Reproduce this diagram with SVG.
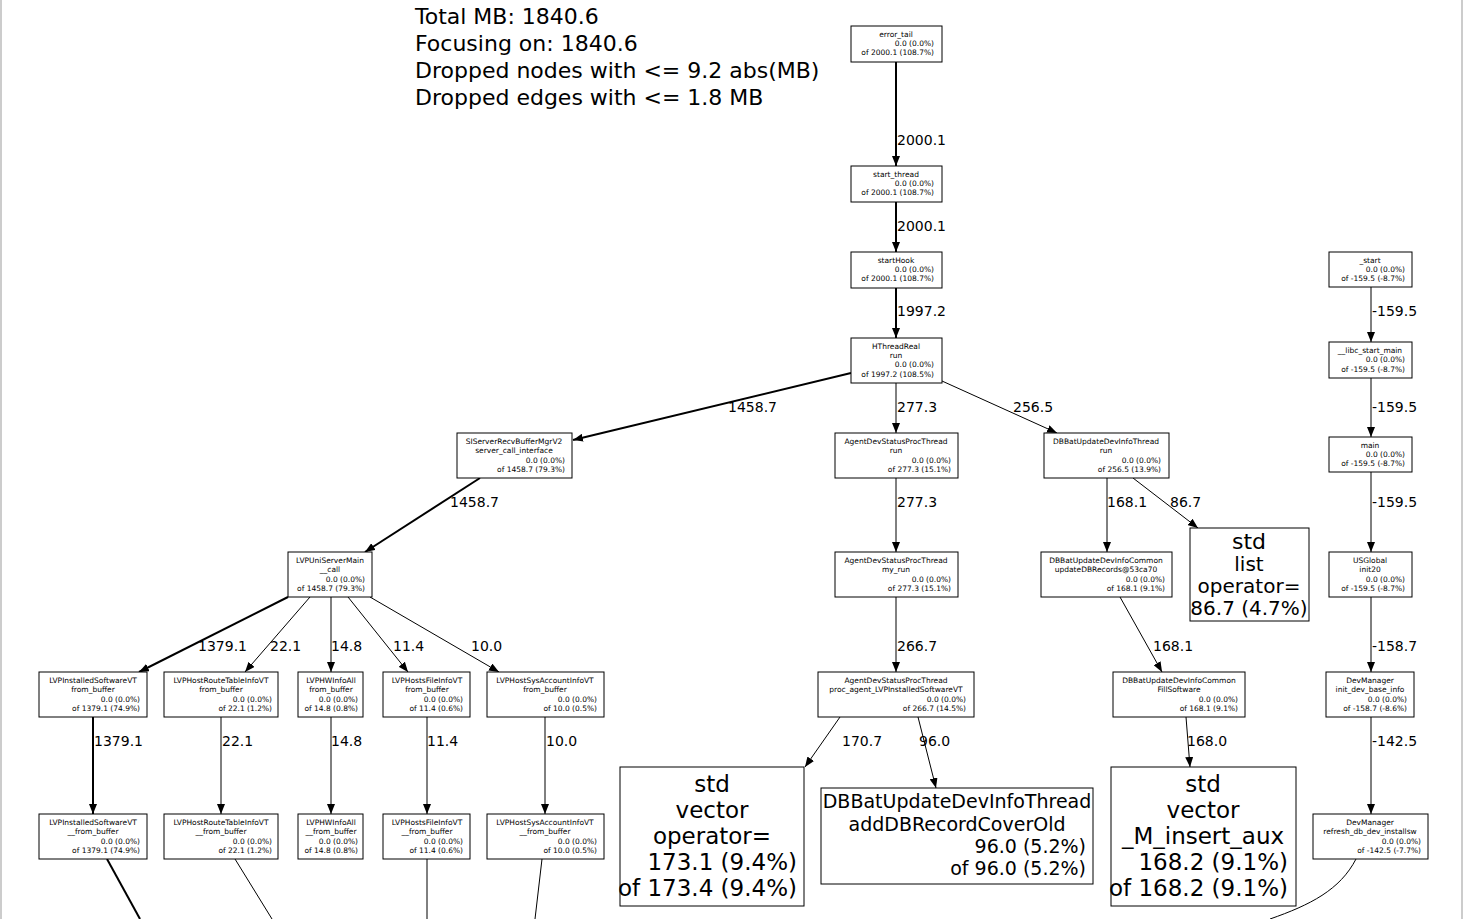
<svg xmlns="http://www.w3.org/2000/svg" width="1466" height="919" viewBox="0 0 1466 919">
<defs>
<marker id="a" viewBox="0 0 10 8" refX="10" refY="4" markerWidth="10" markerHeight="8" markerUnits="userSpaceOnUse" orient="auto"><path d="M0,0L10,4L0,8z" fill="#000"/></marker>
</defs>
<style>
text{font-family:"DejaVu Sans",sans-serif;fill:#000}
.n rect{fill:#fff;stroke:#000;stroke-width:1}
.s{font-size:7.5px}
.c{text-anchor:middle}
.r{text-anchor:end}
.l{font-size:14px}
.b{font-size:22px}
.e path{fill:none;stroke:#000;marker-end:url(#a)}
.e path.o{marker-end:none}
</style>
<rect width="1466" height="919" fill="#fff"/>
<line x1="1" y1="0" x2="1" y2="919" stroke="#999"/>
<line x1="1462" y1="0" x2="1462" y2="919" stroke="#999"/>
<g id="legend"><text x="415" y="24" font-size="22">Total MB: 1840.6</text><text x="415" y="51" font-size="22">Focusing on: 1840.6</text><text x="415" y="78" font-size="22">Dropped nodes with &lt;= 9.2 abs(MB)</text><text x="415" y="105" font-size="22">Dropped edges with &lt;= 1.8 MB</text></g>
<g class="e">
<path d="M896,62V166" stroke-width="2"/>
<path d="M896,202V252" stroke-width="2"/>
<path d="M896,288V338" stroke-width="2"/>
<path d="M851,373L573,440" stroke-width="2"/>
<path d="M896,383V433"/>
<path d="M942,381L1057,433"/>
<path d="M480,478L365,552" stroke-width="2"/>
<path d="M896,478V552"/>
<path d="M1107,478V552"/>
<path d="M1133,478L1198,528"/>
<path d="M1371,287V342"/>
<path d="M1371,378V437"/>
<path d="M1371,472V552"/>
<path d="M1371,597V672"/>
<path d="M1371,717V814"/>
<path d="M288,597L139,672" stroke-width="2"/>
<path d="M310,597L245,672"/>
<path d="M331,597V672"/>
<path d="M348,597L408,672"/>
<path d="M370,597L499,672"/>
<path d="M896,597V672"/>
<path d="M1120,597L1162,672"/>
<path d="M93,717V814" stroke-width="2"/>
<path d="M221,717V814"/>
<path d="M331,717V814"/>
<path d="M427,717V814"/>
<path d="M545,717V814"/>
<path d="M840,717L805,767"/>
<path d="M918,717L936,788"/>
<path d="M1186,717L1190,767"/>
<path class="o" d="M107,859L140,919" stroke-width="2"/>
<path class="o" d="M235,859L272,919"/>
<path class="o" d="M427,859V919"/>
<path class="o" d="M542,859L535,919"/>
<path class="o" d="M1356,859C1340,890 1310,905 1270,919"/>
</g>
<g id="labels" class="l">
<text x="897" y="145">2000.1</text><text x="897" y="231">2000.1</text><text x="897" y="316">1997.2</text>
<text x="728" y="412">1458.7</text><text x="897" y="412">277.3</text><text x="1013" y="412">256.5</text>
<text x="450" y="507">1458.7</text><text x="897" y="507">277.3</text><text x="1107" y="507">168.1</text><text x="1170" y="507">86.7</text>
<text x="1372" y="316">-159.5</text><text x="1372" y="412">-159.5</text><text x="1372" y="507">-159.5</text><text x="1372" y="651">-158.7</text><text x="1372" y="746">-142.5</text>
<text x="198" y="651">1379.1</text><text x="270" y="651">22.1</text><text x="331" y="651">14.8</text><text x="393" y="651">11.4</text><text x="471" y="651">10.0</text>
<text x="897" y="651">266.7</text><text x="1153" y="651">168.1</text>
<text x="94" y="746">1379.1</text><text x="222" y="746">22.1</text><text x="331" y="746">14.8</text><text x="427" y="746">11.4</text><text x="546" y="746">10.0</text>
<text x="842" y="746">170.7</text><text x="919" y="746">96.0</text><text x="1187" y="746">168.0</text>
</g>
<g id="error_tail" class="n s"><rect x="851" y="26" width="91" height="36"/><text class="c" x="896" y="37">error_tail</text><text class="r" x="934" y="46">0.0 (0.0%)</text><text class="r" x="934" y="55">of 2000.1 (108.7%)</text></g>
<g id="start_thread" class="n s"><rect x="851" y="166" width="91" height="36"/><text class="c" x="896" y="177">start_thread</text><text class="r" x="934" y="186">0.0 (0.0%)</text><text class="r" x="934" y="195">of 2000.1 (108.7%)</text></g>
<g id="startHook" class="n s"><rect x="851" y="252" width="91" height="36"/><text class="c" x="896" y="263">startHook</text><text class="r" x="934" y="272">0.0 (0.0%)</text><text class="r" x="934" y="281">of 2000.1 (108.7%)</text></g>
<g id="HThreadReal" class="n s"><rect x="851" y="338" width="91" height="45"/><text class="c" x="896" y="349">HThreadReal</text><text class="c" x="896" y="358">run</text><text class="r" x="934" y="367">0.0 (0.0%)</text><text class="r" x="934" y="377">of 1997.2 (108.5%)</text></g>
<g id="SIServer" class="n s"><rect x="457" y="433" width="115" height="45"/><text class="c" x="514" y="444">SIServerRecvBufferMgrV2</text><text class="c" x="514" y="453">server_call_interface</text><text class="r" x="565" y="463">0.0 (0.0%)</text><text class="r" x="565" y="472">of 1458.7 (79.3%)</text></g>
<g id="AgentRun" class="n s"><rect x="835" y="433" width="123" height="45"/><text class="c" x="896" y="444">AgentDevStatusProcThread</text><text class="c" x="896" y="453">run</text><text class="r" x="951" y="463">0.0 (0.0%)</text><text class="r" x="951" y="472">of 277.3 (15.1%)</text></g>
<g id="DBRun" class="n s"><rect x="1044" y="433" width="125" height="45"/><text class="c" x="1106" y="444">DBBatUpdateDevInfoThread</text><text class="c" x="1106" y="453">run</text><text class="r" x="1161" y="463">0.0 (0.0%)</text><text class="r" x="1161" y="472">of 256.5 (13.9%)</text></g>
<g id="stdlist" class="n"><rect x="1190" y="528" width="119" height="93"/><text class="c b" x="1249" y="549" font-size="20">std</text><text class="c" x="1249" y="571" font-size="20">list</text><text class="c" x="1249" y="593" font-size="20">operator=</text><text class="c" x="1249" y="615" font-size="20">86.7 (4.7%)</text></g>
<g id="LVPUni" class="n s"><rect x="288" y="552" width="84" height="45"/><text class="c" x="330" y="563">LVPUniServerMain</text><text class="c" x="330" y="572">__call</text><text class="r" x="365" y="582">0.0 (0.0%)</text><text class="r" x="365" y="591">of 1458.7 (79.3%)</text></g>
<g id="AgentMyRun" class="n s"><rect x="835" y="552" width="123" height="45"/><text class="c" x="896" y="563">AgentDevStatusProcThread</text><text class="c" x="896" y="572">my_run</text><text class="r" x="951" y="582">0.0 (0.0%)</text><text class="r" x="951" y="591">of 277.3 (15.1%)</text></g>
<g id="DBUpdRec" class="n s"><rect x="1041" y="552" width="131" height="45"/><text class="c" x="1106" y="563">DBBatUpdateDevInfoCommon</text><text class="c" x="1106" y="572">updateDBRecords@53ca70</text><text class="r" x="1165" y="582">0.0 (0.0%)</text><text class="r" x="1165" y="591">of 168.1 (9.1%)</text></g>
<g id="USGlobal" class="n s"><rect x="1329" y="552" width="83" height="45"/><text class="c" x="1370" y="563">USGlobal</text><text class="c" x="1370" y="572">init20</text><text class="r" x="1405" y="582">0.0 (0.0%)</text><text class="r" x="1405" y="591">of -159.5 (-8.7%)</text></g>
<g id="_start" class="n s"><rect x="1329" y="252" width="83" height="35"/><text class="c" x="1370" y="263">_start</text><text class="r" x="1405" y="272">0.0 (0.0%)</text><text class="r" x="1405" y="281">of -159.5 (-8.7%)</text></g>
<g id="libc" class="n s"><rect x="1329" y="342" width="83" height="36"/><text class="c" x="1370" y="353">__libc_start_main</text><text class="r" x="1405" y="362">0.0 (0.0%)</text><text class="r" x="1405" y="372">of -159.5 (-8.7%)</text></g>
<g id="main" class="n s"><rect x="1329" y="437" width="83" height="35"/><text class="c" x="1370" y="448">main</text><text class="r" x="1405" y="457">0.0 (0.0%)</text><text class="r" x="1405" y="466">of -159.5 (-8.7%)</text></g>
<g id="LVPInst" class="n s"><rect x="39" y="672" width="108" height="45"/><text class="c" x="93" y="683">LVPInstalledSoftwareVT</text><text class="c" x="93" y="692">from_buffer</text><text class="r" x="140" y="702">0.0 (0.0%)</text><text class="r" x="140" y="711">of 1379.1 (74.9%)</text></g>
<g id="LVPRoute" class="n s"><rect x="164" y="672" width="114" height="45"/><text class="c" x="221" y="683">LVPHostRouteTableInfoVT</text><text class="c" x="221" y="692">from_buffer</text><text class="r" x="272" y="702">0.0 (0.0%)</text><text class="r" x="272" y="711">of 22.1 (1.2%)</text></g>
<g id="LVPHW" class="n s"><rect x="298" y="672" width="65" height="45"/><text class="c" x="331" y="683">LVPHWInfoAll</text><text class="c" x="331" y="692">from_buffer</text><text class="r" x="358" y="702">0.0 (0.0%)</text><text class="r" x="358" y="711">of 14.8 (0.8%)</text></g>
<g id="LVPFile" class="n s"><rect x="383" y="672" width="87" height="45"/><text class="c" x="427" y="683">LVPHostsFileInfoVT</text><text class="c" x="427" y="692">from_buffer</text><text class="r" x="463" y="702">0.0 (0.0%)</text><text class="r" x="463" y="711">of 11.4 (0.6%)</text></g>
<g id="LVPSys" class="n s"><rect x="487" y="672" width="117" height="45"/><text class="c" x="545" y="683">LVPHostSysAccountInfoVT</text><text class="c" x="545" y="692">from_buffer</text><text class="r" x="597" y="702">0.0 (0.0%)</text><text class="r" x="597" y="711">of 10.0 (0.5%)</text></g>
<g id="AgentProc" class="n s"><rect x="818" y="672" width="156" height="45"/><text class="c" x="896" y="683">AgentDevStatusProcThread</text><text class="c" x="896" y="692">proc_agent_LVPInstalledSoftwareVT</text><text class="r" x="966" y="702">0.0 (0.0%)</text><text class="r" x="966" y="711">of 266.7 (14.5%)</text></g>
<g id="FillSw" class="n s"><rect x="1113" y="672" width="132" height="45"/><text class="c" x="1179" y="683">DBBatUpdateDevInfoCommon</text><text class="c" x="1179" y="692">FillSoftware</text><text class="r" x="1238" y="702">0.0 (0.0%)</text><text class="r" x="1238" y="711">of 168.1 (9.1%)</text></g>
<g id="DevInit" class="n s"><rect x="1326" y="672" width="88" height="45"/><text class="c" x="1370" y="683">DevManager</text><text class="c" x="1370" y="692">init_dev_base_info</text><text class="r" x="1407" y="702">0.0 (0.0%)</text><text class="r" x="1407" y="711">of -158.7 (-8.6%)</text></g>
<g id="vecop" class="n"><rect x="620" y="767" width="184" height="139"/><text class="c" x="712" y="792" font-size="23">std</text><text class="c" x="712" y="818" font-size="23">vector</text><text class="c" x="712" y="844" font-size="23">operator=</text><text class="r" x="797" y="870" font-size="23">173.1 (9.4%)</text><text class="r" x="797" y="896" font-size="23">of 173.4 (9.4%)</text></g>
<g id="addDB" class="n"><rect x="821" y="788" width="272" height="96"/><text class="c" x="957" y="808" font-size="19">DBBatUpdateDevInfoThread</text><text class="c" x="957" y="831" font-size="19">addDBRecordCoverOld</text><text class="r" x="1086" y="853" font-size="19">96.0 (5.2%)</text><text class="r" x="1086" y="875" font-size="19">of 96.0 (5.2%)</text></g>
<g id="vecins" class="n"><rect x="1111" y="767" width="185" height="139"/><text class="c" x="1203" y="792" font-size="23">std</text><text class="c" x="1203" y="818" font-size="23">vector</text><text class="c" x="1203" y="844" font-size="23">_M_insert_aux</text><text class="r" x="1288" y="870" font-size="23">168.2 (9.1%)</text><text class="r" x="1288" y="896" font-size="23">of 168.2 (9.1%)</text></g>
<g id="LVPInst2" class="n s"><rect x="39" y="814" width="108" height="45"/><text class="c" x="93" y="825">LVPInstalledSoftwareVT</text><text class="c" x="93" y="834">__from_buffer</text><text class="r" x="140" y="844">0.0 (0.0%)</text><text class="r" x="140" y="853">of 1379.1 (74.9%)</text></g>
<g id="LVPRoute2" class="n s"><rect x="164" y="814" width="114" height="45"/><text class="c" x="221" y="825">LVPHostRouteTableInfoVT</text><text class="c" x="221" y="834">__from_buffer</text><text class="r" x="272" y="844">0.0 (0.0%)</text><text class="r" x="272" y="853">of 22.1 (1.2%)</text></g>
<g id="LVPHW2" class="n s"><rect x="298" y="814" width="65" height="45"/><text class="c" x="331" y="825">LVPHWInfoAll</text><text class="c" x="331" y="834">__from_buffer</text><text class="r" x="358" y="844">0.0 (0.0%)</text><text class="r" x="358" y="853">of 14.8 (0.8%)</text></g>
<g id="LVPFile2" class="n s"><rect x="383" y="814" width="87" height="45"/><text class="c" x="427" y="825">LVPHostsFileInfoVT</text><text class="c" x="427" y="834">__from_buffer</text><text class="r" x="463" y="844">0.0 (0.0%)</text><text class="r" x="463" y="853">of 11.4 (0.6%)</text></g>
<g id="LVPSys2" class="n s"><rect x="487" y="814" width="117" height="45"/><text class="c" x="545" y="825">LVPHostSysAccountInfoVT</text><text class="c" x="545" y="834">__from_buffer</text><text class="r" x="597" y="844">0.0 (0.0%)</text><text class="r" x="597" y="853">of 10.0 (0.5%)</text></g>
<g id="DevRefresh" class="n s"><rect x="1313" y="814" width="115" height="45"/><text class="c" x="1370" y="825">DevManager</text><text class="c" x="1370" y="834">refresh_db_dev_installsw</text><text class="r" x="1421" y="844">0.0 (0.0%)</text><text class="r" x="1421" y="853">of -142.5 (-7.7%)</text></g>
</svg>
